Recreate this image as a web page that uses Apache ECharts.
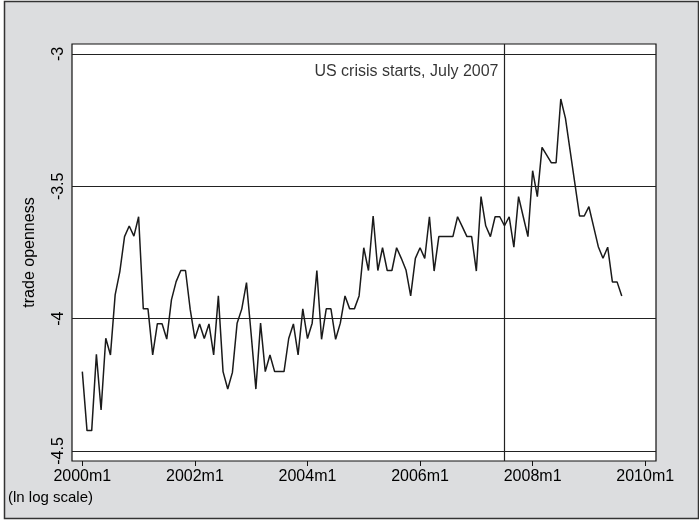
<!DOCTYPE html>
<html>
<head>
<meta charset="utf-8">
<script src="https://cdn.jsdelivr.net/npm/echarts@6/dist/echarts.min.js"></script>
<style>
html,body{margin:0;padding:0;background:#fff;}
#c{width:699px;height:521px;}
</style>
</head>
<body>
<div id="c"></div>
<script>
// month index 0 = 2000m1
var tradeOpenness = [
-4.200,-4.423,-4.423,-4.135,-4.345,-4.074,-4.137,-3.910,-3.822,-3.690,-3.650,-3.688,
-3.615,-3.963,-3.963,-4.137,-4.019,-4.019,-4.077,-3.929,-3.860,-3.818,-3.818,-3.965,
-4.075,-4.020,-4.075,-4.020,-4.137,-3.914,-4.200,-4.266,-4.203,-4.017,-3.963,-3.864,
-4.060,-4.266,-4.017,-4.200,-4.137,-4.200,-4.200,-4.200,-4.075,-4.020,-4.137,-3.963,
-4.075,-4.017,-3.818,-4.078,-3.963,-3.963,-4.078,-4.017,-3.914,-3.963,-3.963,-3.914,
-3.732,-3.818,-3.612,-3.818,-3.732,-3.818,-3.818,-3.732,-3.772,-3.816,-3.914,-3.772,
-3.732,-3.772,-3.615,-3.820,-3.690,-3.690,-3.690,-3.690,-3.615,-3.652,-3.690,-3.690,
-3.820,-3.539,-3.649,-3.690,-3.615,-3.615,-3.649,-3.615,-3.730,-3.539,-3.615,-3.690,
-3.441,-3.539,-3.353,-3.382,-3.411,-3.411,-3.170,-3.243,-3.366,-3.489,-3.612,-3.612,
-3.577,-3.652,-3.728,-3.772,-3.730,-3.861,-3.861,-3.914
];
var xTickValues = [0, 24, 48, 72, 96, 120];
var xTickLabels = ['2000m1','2002m1','2004m1','2006m1','2008m1','2010m1'];
var yTickValues = [-4.5, -4, -3.5, -3];
var yTickLabels = ['-4.5','-4','-3.5','-3'];
var crisisMonth = 90; // 2007m7
var crisisLabel = 'US crisis starts, July 2007';
var crisisLabelY = -3.068;

var lineData = tradeOpenness.map(function(v,i){return [i,v];});
var font = '"Liberation Sans", Arial, sans-serif';

var chart = echarts.init(document.getElementById('c'), null, {renderer:'canvas'});
chart.setOption({
  animation:false,
  backgroundColor:'#ffffff',
  graphic:[{
    type:'rect', z:-10, silent:true,
    shape:{x:4.5,y:1.5,width:694,height:517},
    style:{fill:'#dcdddf',stroke:'#333',lineWidth:1.5}
  }],
  title:{
    text:'(ln log scale)', left:3, top:485,
    textStyle:{fontFamily:font,fontSize:15,fontWeight:'normal',color:'#000'}
  },
  grid:{
    left:72, top:44, width:584, height:417,
    show:true, backgroundColor:'#ffffff', borderColor:'#111', borderWidth:1.2,
    containLabel:false
  },
  xAxis:{
    type:'value', min:-2.2, max:122.3,
    axisLine:{show:false},
    splitLine:{show:false},
    axisTick:{show:true, customValues:xTickValues, length:5, lineStyle:{color:'#111',width:1}},
    axisLabel:{show:true, customValues:xTickValues, margin:8,
      formatter:function(v){var i=xTickValues.indexOf(v);return i>=0?xTickLabels[i]:'';},
      fontFamily:font,fontSize:16,color:'#000'}
  },
  yAxis:{
    type:'value', min:-4.5378, max:-2.9622,
    axisLine:{show:false},
    splitLine:{show:false},
    name:'trade openness', nameLocation:'middle', nameGap:34, nameRotate:90,
    nameTextStyle:{fontFamily:font,fontSize:16,color:'#000'},
    axisTick:{show:true, customValues:yTickValues, length:7, lineStyle:{color:'#111',width:1}},
    axisLabel:{show:true, customValues:yTickValues, rotate:90, margin:5,
      formatter:function(v){var i=yTickValues.indexOf(v);return i>=0?yTickLabels[i]:'';},
      fontFamily:font,fontSize:16,color:'#000'}
  },
  series:[{
    type:'line', data:lineData, showSymbol:false, symbol:'none',
    lineStyle:{color:'#1a1a1a',width:1.5}, z:5,
    markLine:{
      silent:true, symbol:'none', animation:false,
      label:{show:false},
      lineStyle:{color:'#222',width:1.2,type:'solid'},
      data:yTickValues.map(function(v){return {yAxis:v};}).concat([{xAxis:crisisMonth}])
    }
  },{
    type:'scatter', data:[[crisisMonth, crisisLabelY]], symbolSize:0, silent:true,
    label:{show:true, position:'left', distance:6, formatter:crisisLabel,
      fontFamily:font,fontSize:16,color:'#000'}
  }]
});
</script>
</body>
</html>
